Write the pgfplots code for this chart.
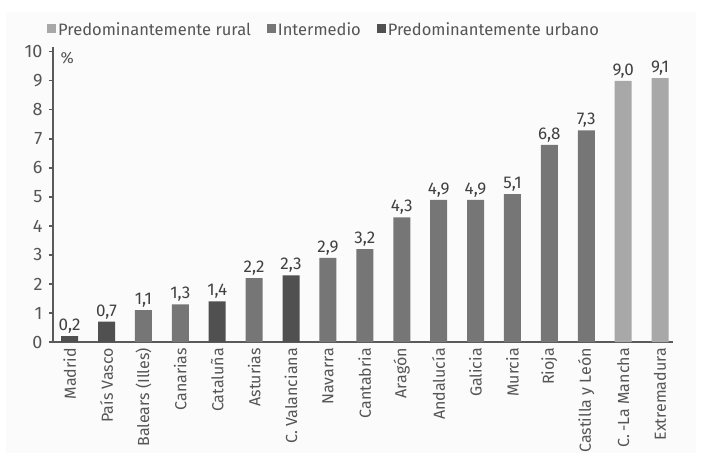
\documentclass[border=0pt]{standalone}
\usepackage{fontspec}
\setmainfont{Fira Sans}
\usepackage{pgfplots}
\pgfplotsset{compat=1.18}
\definecolor{urb}{HTML}{505050}
\definecolor{mid}{HTML}{767676}
\definecolor{rur}{HTML}{A8A8A8}
\definecolor{txt}{HTML}{555555}
\definecolor{axc}{HTML}{5A5A5A}
\begin{document}
\begin{tikzpicture}[x=1pt,y=1pt]
\useasboundingbox (-53,-122) rectangle (649,342);
\fill[white!98.5!black] (-47,-111) rectangle (643,330);
\begin{axis}[
  /pgf/number format/assume math mode=true,
  at={(0,0)}, anchor=south west,
  scale only axis, width=620pt, height=295pt,
  xmin=-0.45, xmax=16.35, ymin=0, ymax=10.17,
  axis x line=bottom, axis y line=left,
  axis line style={-, axc, line width=1.1pt},
  ybar, bar width=17pt,
  ytick={0,1,...,10},
  xtick={0,1,...,16},
  xticklabels={Madrid,País Vasco,Balears (Illes),Canarias,Cataluña,Asturias,C. Valanciana,Navarra,Cantabria,Aragón,Andalucía,Galicia,Murcia,Rioja,Castilla y León,C.\,-La Mancha,Extremadura},
  x tick label style={rotate=90, anchor=east, font=\fontsize{16}{16}\selectfont, text=txt, inner sep=2pt},
  y tick label style={font=\fontsize{18}{18}\selectfont, text=txt, xshift=-3pt},
  major x tick style={draw=none},
  major y tick style={axc, line width=1.1pt},
  tick align=outside, major tick length=4pt,
  ylabel={\%},
  ylabel style={rotate=-90, at={(axis description cs:0,1)}, anchor=north west, xshift=4pt, yshift=-2pt, font=\fontsize{16}{16}\selectfont, text=txt},
  nodes near coords={\pgfmathprintnumber[fixed,fixed zerofill,precision=1,use comma,assume math mode=true]{\pgfplotspointmeta}},
  every node near coord/.append style={font=\fontsize{17}{17}\selectfont, text=black!75, inner sep=2.5pt},
  legend columns=3,
  legend cell align=left,
  legend image code/.code={\fill[#1] (0pt,-3.5pt) rectangle (9pt,5.5pt);},
  legend style={draw=none, fill=none, at={(axis description cs:0,1)}, anchor=south west, xshift=-9pt, yshift=6pt,
    font=\fontsize{16.5}{16.5}\selectfont, text=txt,
    /tikz/every even column/.append style={column sep=14pt}},
]
\addplot[fill=rur, draw=none, bar shift=0pt] coordinates {(15,9.0) (16,9.1)};
\addlegendentry{Predominantemente rural}
\addplot[fill=mid, draw=none, bar shift=0pt] coordinates {(2,1.1) (3,1.3) (5,2.2) (7,2.9) (8,3.2) (9,4.3) (10,4.9) (11,4.9) (12,5.1) (13,6.8) (14,7.3)};
\addlegendentry{Intermedio}
\addplot[fill=urb, draw=none, bar shift=0pt] coordinates {(0,0.2) (1,0.7) (4,1.4) (6,2.3)};
\addlegendentry{Predominantemente urbano}
\end{axis}
\end{tikzpicture}
\end{document}
